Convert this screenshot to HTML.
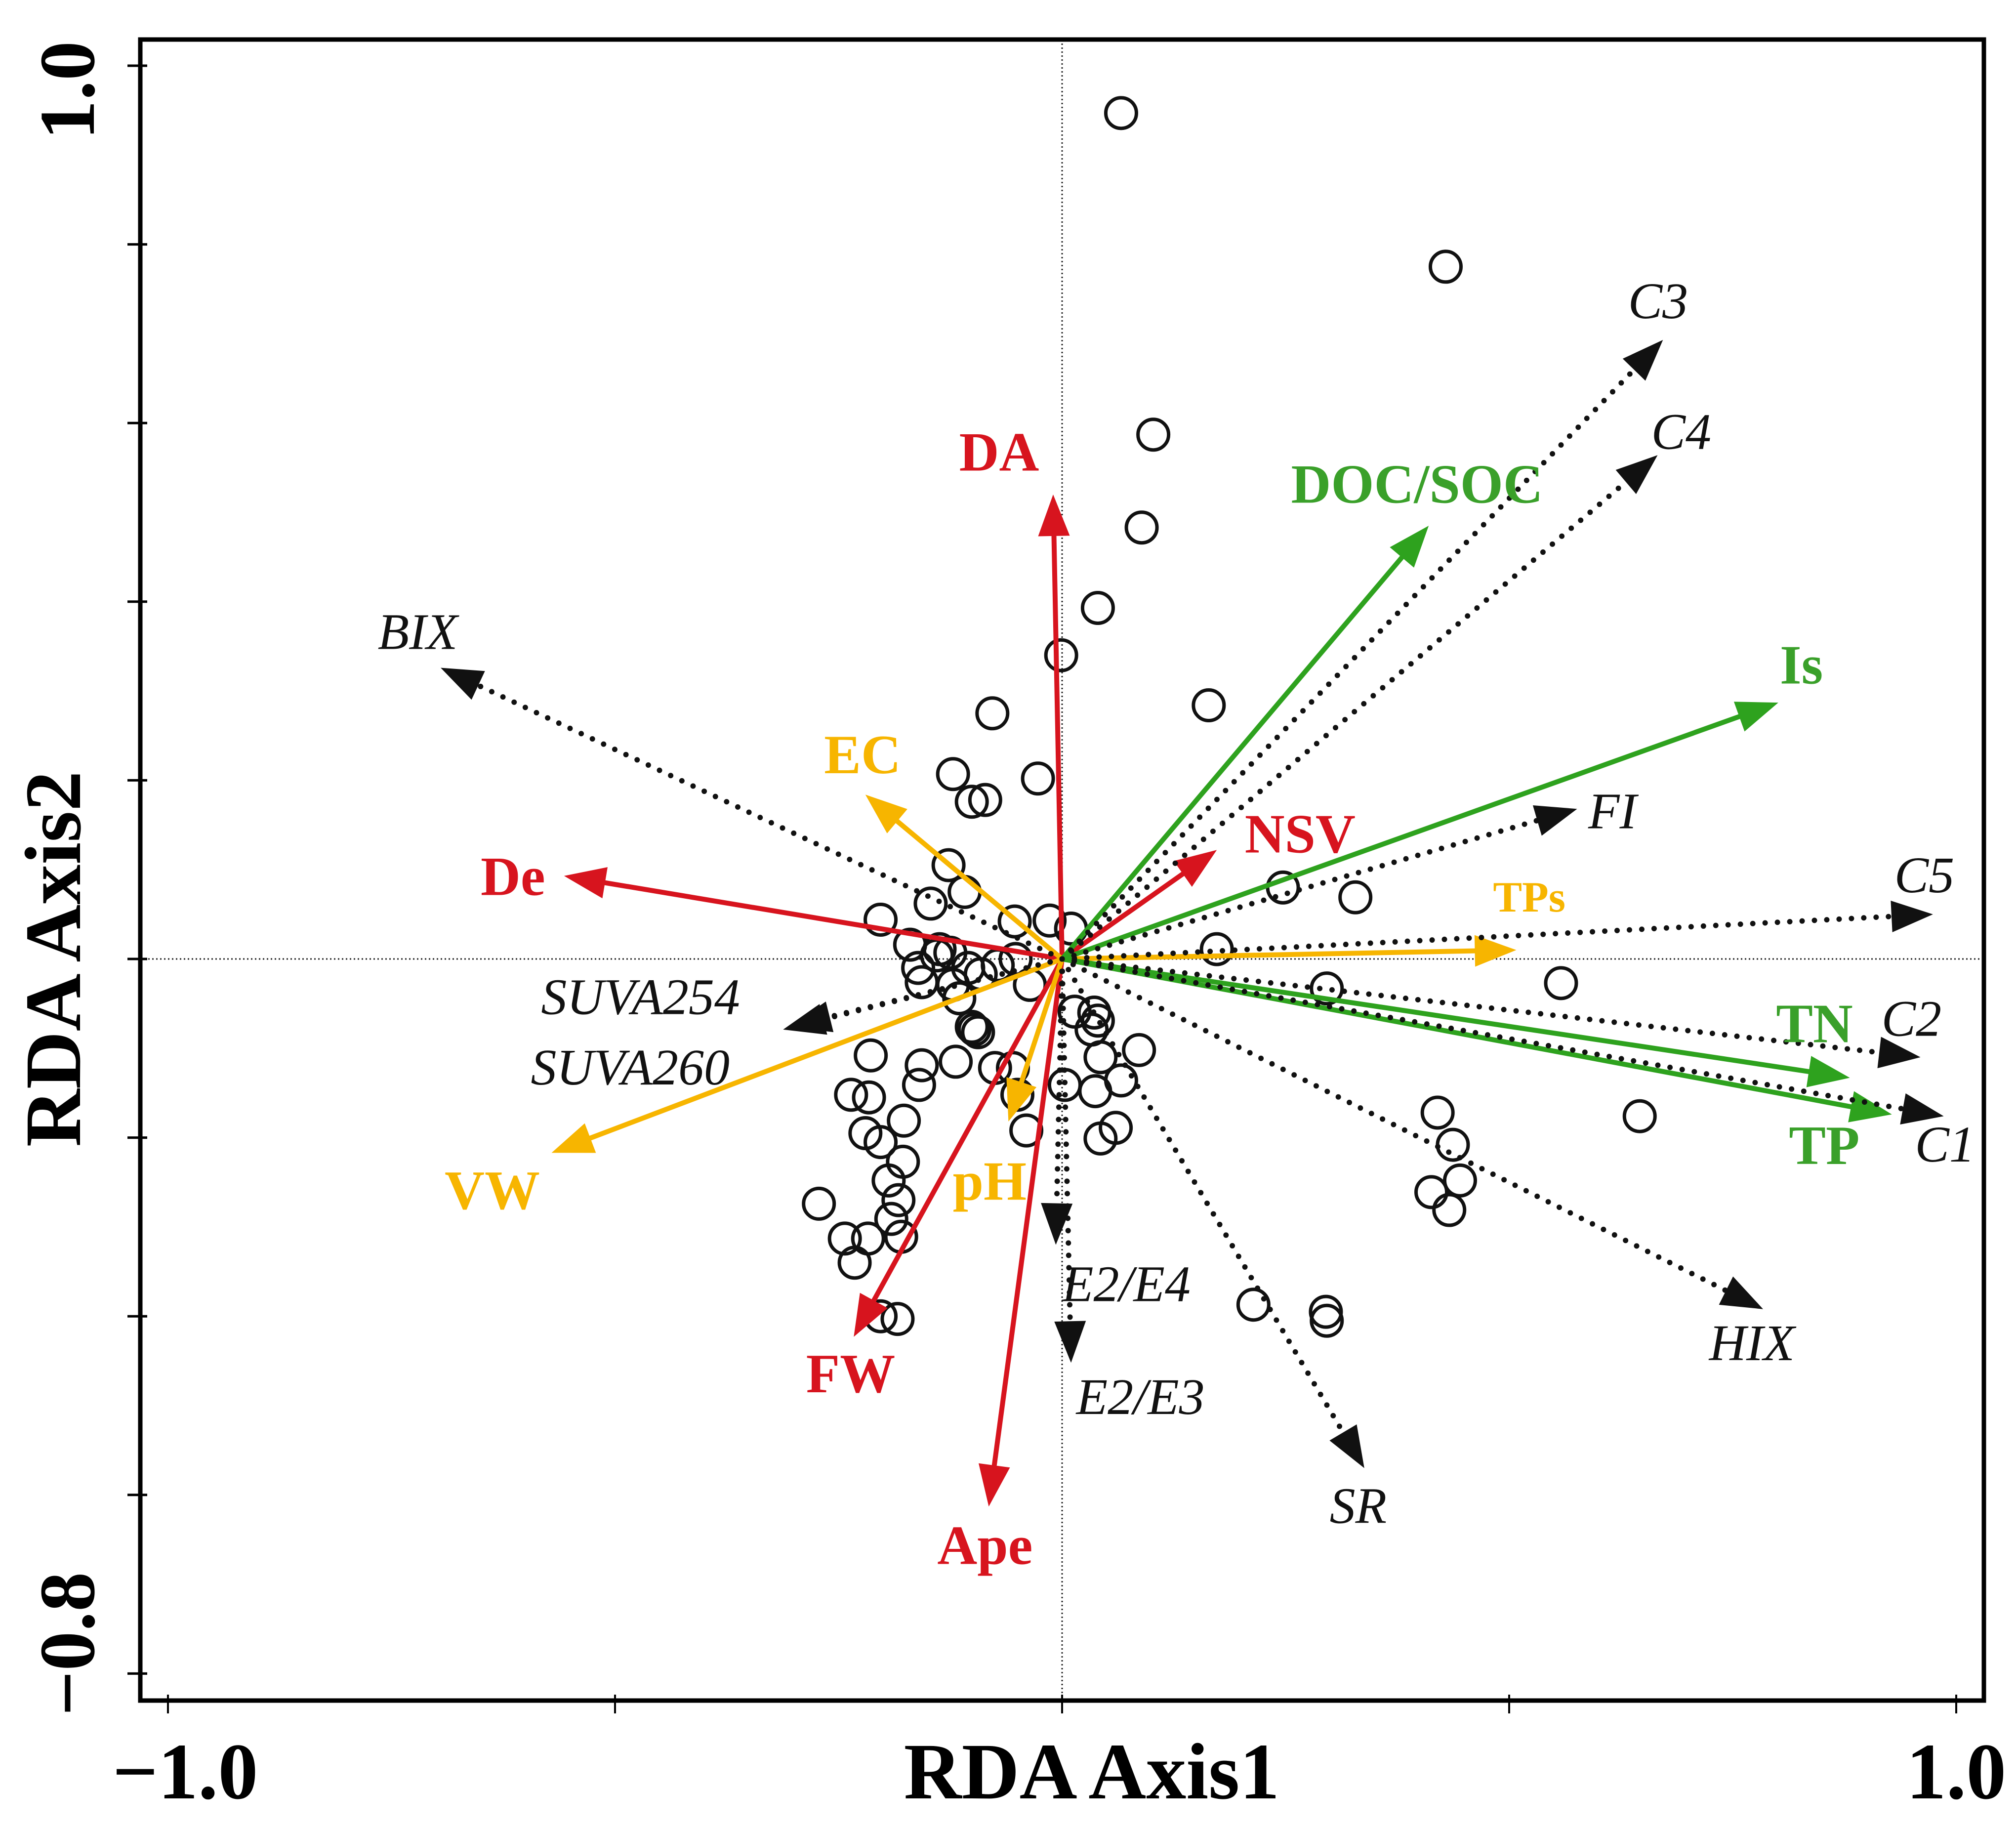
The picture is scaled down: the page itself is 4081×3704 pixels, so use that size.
<!DOCTYPE html>
<html><head><meta charset="utf-8"><style>
html,body{margin:0;padding:0;background:#fff;}
svg{display:block;}
</style></head><body>
<svg id="chart" xmlns="http://www.w3.org/2000/svg" width="4081" height="3704" viewBox="0 0 4081 3704">
<rect x="0" y="0" width="4081" height="3704" fill="#fff"/>
<g id="axes"></g>
<g id="points"></g>
<g id="arrows"></g>
<g id="labels"></g>
</svg>
<script>
// ---- data ----
const arrowNames = ["DA","De","NSV","FW","Ape","EC","TPs","VW","pH","DOC/SOC","Is","TN","TP","C3","C4","BIX","FI","C5","C2","C1","HIX","SR","E2/E4","E2/E3","SUVA254","SUVA260"];
const arrowX = [-0.010,-0.557,0.173,-0.233,-0.082,-0.220,0.508,-0.571,-0.060,0.410,0.801,0.881,0.928,0.672,0.666,-0.695,0.576,0.974,0.960,0.986,0.784,0.338,-0.007,0.010,-0.312,-0.305];
const arrowY = [0.520,0.093,0.122,-0.423,-0.613,0.184,0.010,-0.217,-0.182,0.485,0.287,-0.133,-0.174,0.693,0.564,0.326,0.168,0.050,-0.110,-0.176,-0.392,-0.570,-0.320,-0.452,-0.079,-0.076];
const arrowGroup = ["red","red","red","red","red","yellow","yellow","yellow","yellow","green","green","green","green","black","black","black","black","black","black","black","black","black","black","black","black","black"];
const pointX = [0.066,0.429,0.102,0.089,0.040,-0.001,0.164,-0.078,-0.122,-0.027,-0.101,-0.086,-0.127,-0.109,-0.147,0.247,0.328,-0.203,-0.053,-0.014,0.010,0.173,-0.170,-0.137,-0.140,-0.125,-0.161,-0.105,-0.072,-0.052,-0.157,-0.122,-0.091,-0.036,0.296,0.558,-0.115,-0.098,-0.094,-0.101,0.014,0.036,0.040,0.033,-0.214,-0.157,-0.119,-0.075,-0.055,0.043,0.086,0.003,0.037,0.066,0.646,0.420,0.437,0.445,0.413,0.433,-0.236,-0.216,-0.160,-0.050,-0.220,-0.203,-0.177,-0.040,0.043,0.060,-0.178,-0.194,-0.183,-0.272,-0.191,-0.243,-0.217,-0.180,-0.232,0.214,0.295,0.296,-0.203,-0.184];
const pointY = [0.947,0.775,0.587,0.483,0.393,0.340,0.284,0.275,0.207,0.202,0.176,0.178,0.105,0.075,0.062,0.080,0.069,0.044,0.042,0.043,0.034,0.011,0.016,0.011,0.004,0.007,-0.010,-0.010,-0.007,0.000,-0.026,-0.029,-0.017,-0.029,-0.033,-0.027,-0.044,-0.079,-0.082,-0.076,-0.059,-0.060,-0.069,-0.079,-0.108,-0.119,-0.115,-0.122,-0.122,-0.110,-0.102,-0.141,-0.148,-0.136,-0.176,-0.172,-0.208,-0.248,-0.261,-0.281,-0.152,-0.155,-0.141,-0.152,-0.195,-0.205,-0.181,-0.192,-0.201,-0.189,-0.227,-0.248,-0.270,-0.274,-0.291,-0.313,-0.313,-0.311,-0.340,-0.387,-0.395,-0.405,-0.400,-0.403];
const xTicks = [-1.0,-0.5,0,0.5,1.0];
const yTicks = [-0.8,-0.6,-0.4,-0.2,0,0.2,0.4,0.6,0.8,1.0];
const xTickLabels = ["−1.0","1.0"];
const yTickLabels = ["1.0","−0.8"];

// ---- layout ----
const X0=2150, XU=1810, Y0=1941, YU=1808;
const FL=284, FR=4016, FT=80, FB=3442;
function sx(v){return X0+v*XU;}
function sy(v){return Y0-v*YU;}
function L(dx,dy){return [X0+(dx-825)*2.604, Y0+(dy-745)*2.594];}
const colors={red:"#d7141e",yellow:"#f7b500",green:"#2ea21e",black:"#111"};
const labelColors={red:"#d7141e",yellow:"#f7b500",green:"#3aa02a",black:"#111"};
const labelPos = {"DA":[745,364],"De":[373,695],"NSV":[967,662],"FW":[626,1083],"Ape":[728,1217],"EC":[640,600],"TPs":[1160,708],"VW":[345,940],"pH":[740,933],"DOC/SOC":[1003,389],"Is":[1383,530],"TN":[1380,810],"TP":[1390,905],"C3":[1265,245],"C4":[1283,347],"BIX":[293,503],"FI":[1234,643],"C5":[1472,693],"C2":[1462,805],"C1":[1488,903],"HIX":[1328,1058],"SR":[1033,1185],"E2/E4":[825,1012],"E2/E3":[836,1100],"SUVA254":[420,788],"SUVA260":[412,843]};

const NS="http://www.w3.org/2000/svg";
function mk(tag,attrs,parent){const e=document.createElementNS(NS,tag);for(const k in attrs)e.setAttribute(k,attrs[k]);parent.appendChild(e);return e;}
const axes=document.getElementById('axes');
const pts=document.getElementById('points');
const arr=document.getElementById('arrows');
const lab=document.getElementById('labels');

let zl=mk('line',{x1:sx(0),y1:FT,x2:sx(0),y2:FB,stroke:"#222","stroke-width":3,"stroke-dasharray":"3 5"},axes);


let zh=mk('line',{x1:FL,y1:sy(0),x2:FR,y2:sy(0),stroke:"#222","stroke-width":3,"stroke-dasharray":"3 5"},axes);


let fr=mk('rect',{x:FL,y:FT,width:FR-FL,height:FB-FT,fill:"none",stroke:"#000","stroke-width":9},axes);


xTicks.forEach(v=>{const t=mk('line',{x1:sx(v),y1:FB-12,x2:sx(v),y2:FB+26,stroke:"#000","stroke-width":4},axes);

});
yTicks.forEach(v=>{const t=mk('line',{x1:FL-26,y1:sy(v),x2:FL+14,y2:sy(v),stroke:"#000","stroke-width":5},axes);

});
const tf='font-family:"Liberation Serif",serif;font-weight:bold;';
let xl1=mk('text',{x:sx(-1.0)+35,y:3640,"text-anchor":"middle",style:tf+"font-size:162px"},axes);xl1.textContent=xTickLabels[0];


let xl2=mk('text',{x:sx(1.0),y:3640,"text-anchor":"middle",style:tf+"font-size:162px"},axes);xl2.textContent=xTickLabels[1];


let yl1=mk('text',{x:0,y:0,"text-anchor":"middle",transform:`translate(190,${sy(1.0)+50}) rotate(-90)`,style:tf+"font-size:160px"},axes);yl1.textContent=yTickLabels[0];


let yl2=mk('text',{x:0,y:0,"text-anchor":"middle",transform:`translate(190,${sy(-0.8)-60}) rotate(-90)`,style:tf+"font-size:160px"},axes);yl2.textContent=yTickLabels[1];


let xt=mk('text',{x:2210,y:3640,"text-anchor":"middle",style:tf+"font-size:162px"},axes);xt.textContent="RDA Axis1";


let yt=mk('text',{x:0,y:0,"text-anchor":"middle",transform:`translate(162,${Y0}) rotate(-90)`,style:tf+"font-size:162px"},axes);yt.textContent="RDA Axis2";



for(let i=0;i<pointX.length;i++){
  const c=mk('circle',{cx:sx(pointX[i]),cy:sy(pointY[i]),r:31,fill:"none",stroke:"#111","stroke-width":7},pts);
  
  
}

for(let i=0;i<arrowNames.length;i++){
  const g=arrowGroup[i], col=colors[g];
  const x1=sx(0),y1=sy(0),x2=sx(arrowX[i]),y2=sy(arrowY[i]);
  const dx=x2-x1,dy=y2-y1,len=Math.hypot(dx,dy),ux=dx/len,uy=dy/len;
  const hl=84,hw=32;
  const bx=x2-ux*hl,by=y2-uy*hl;
  const ln=mk('line',{x1:x1,y1:y1,x2:bx+ux*4,y2:by+uy*4,stroke:col,"stroke-width":g==="black"?11:10,"stroke-linecap":"round"},arr);
  if(g==="black"){ln.setAttribute('stroke-dasharray','0 25');}
  
  
  const hd=mk('polygon',{points:`${x2},${y2} ${bx-uy*hw},${by+ux*hw} ${bx+uy*hw},${by-ux*hw}`,fill:col},arr);
  
  
  const p=L(labelPos[arrowNames[i]][0],labelPos[arrowNames[i]][1]);
  const italic=g==="black";
  const fs=arrowNames[i]==="TPs"?88:(italic?104:112);
  const t=mk('text',{x:p[0],y:p[1],fill:labelColors[g],style:'font-family:"Liberation Serif",serif;font-size:'+fs+'px;'+(italic?'font-style:italic;':'font-weight:bold;')},lab);
  t.textContent=arrowNames[i];
  
  
}
</script>
</body></html>
